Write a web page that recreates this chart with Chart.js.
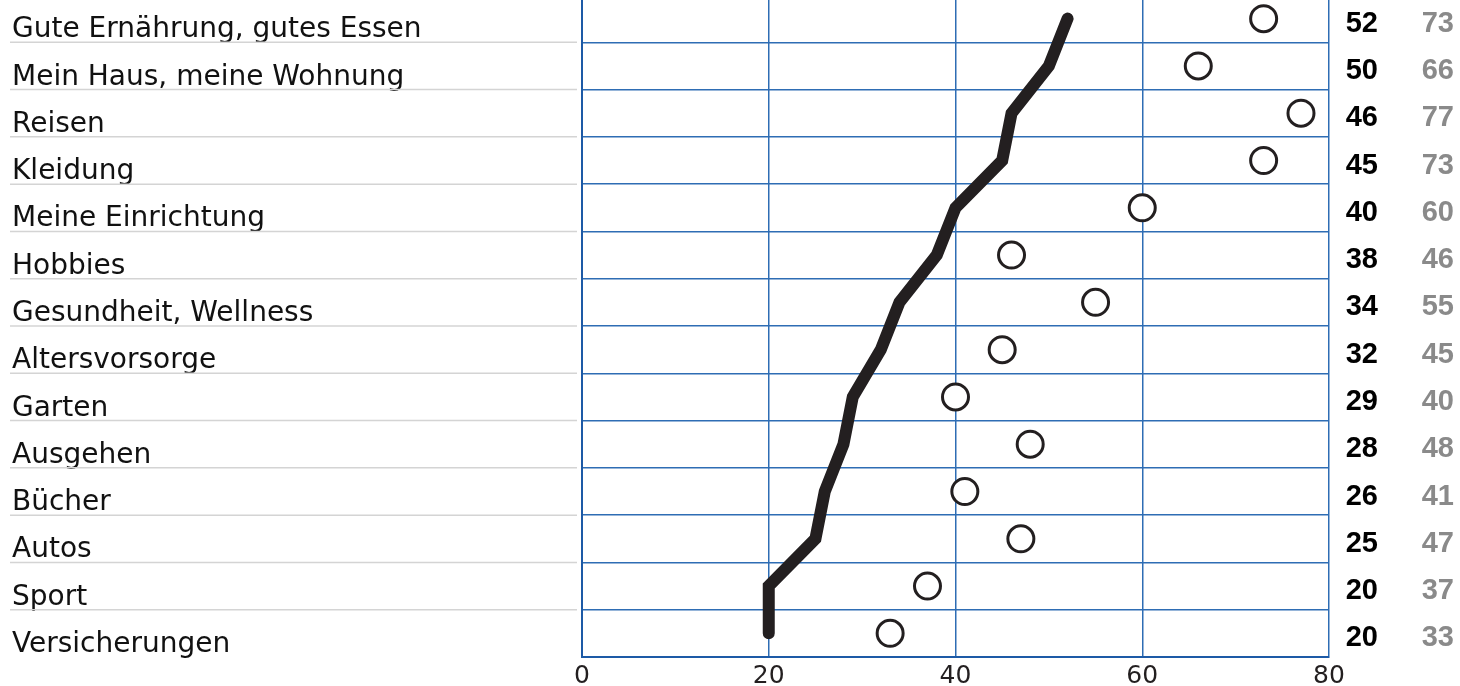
<!DOCTYPE html>
<html>
<head>
<meta charset="utf-8">
<script src="https://cdn.jsdelivr.net/npm/chart.js@4"></script>
<style>
  html, body { margin: 0; padding: 0; background: #fff; overflow: hidden; }
  #wrap { position: absolute; left: 0; top: -5px; width: 1460px; height: 691px; }
</style>
</head>
<body>
<div id="wrap"><canvas id="chart"></canvas></div>
<script>
const categories = [
  'Gute Ernährung, gutes Essen',
  'Mein Haus, meine Wohnung',
  'Reisen',
  'Kleidung',
  'Meine Einrichtung',
  'Hobbies',
  'Gesundheit, Wellness',
  'Altersvorsorge',
  'Garten',
  'Ausgehen',
  'Bücher',
  'Autos',
  'Sport',
  'Versicherungen'
];
const lineValues = [52, 50, 46, 45, 40, 38, 34, 32, 29, 28, 26, 25, 20, 20];
const circleValues = [73, 66, 77, 73, 60, 46, 55, 45, 40, 48, 41, 47, 37, 33];
const xTicks = [0, 20, 40, 60, 80];

const BLUE = '#2e6db4';
const DARK_BLUE = '#1d5aa6';
const INK = '#231f20';

// category names on the left, value columns on the right
const sideLabels = {
  id: 'sideLabels',
  afterDraw(chart) {
    const { ctx, chartArea, scales } = chart;
    const y = scales.y;
    const half = (y.getPixelForValue(1) - y.getPixelForValue(0)) / 2;
    ctx.save();
    categories.forEach((name, i) => {
      const cy = y.getPixelForValue(i);
      ctx.fillStyle = '#111';
      ctx.font = '28px "DejaVu Sans"';
      ctx.textAlign = 'left';
      ctx.textBaseline = 'alphabetic';
      ctx.fillText(name, 12, cy + half - 5);
      if (i < categories.length - 1) {
        ctx.strokeStyle = '#d4d4d4';
        ctx.lineWidth = 1.5;
        ctx.beginPath();
        ctx.moveTo(10, cy + half);
        ctx.lineTo(chartArea.left - 5, cy + half);
        ctx.stroke();
      }
      ctx.font = 'bold 29px "Liberation Sans"';
      ctx.textAlign = 'right';
      ctx.textBaseline = 'middle';
      ctx.fillStyle = '#000';
      ctx.fillText(String(lineValues[i]), 1378, cy + 5);
      ctx.fillStyle = '#8a8a8a';
      ctx.fillText(String(circleValues[i]), 1454, cy + 5);
    });
    ctx.restore();
  }
};

new Chart(document.getElementById('chart'), {
  type: 'line',
  data: {
    labels: categories,
    datasets: [
      {
        data: lineValues,
        borderColor: INK,
        borderWidth: 12,
        borderCapStyle: 'round',
        borderJoinStyle: 'miter',
        pointRadius: 0,
        tension: 0,
        fill: false,
        clip: false
      },
      {
        data: circleValues,
        showLine: false,
        pointStyle: 'circle',
        pointRadius: 13,
        pointBorderWidth: 3,
        pointBorderColor: INK,
        pointBackgroundColor: '#fff',
        clip: false
      }
    ]
  },
  options: {
    indexAxis: 'y',
    responsive: true,
    maintainAspectRatio: false,
    animation: false,
    layout: { autoPadding: false, padding: { left: 582, right: 131, top: 0, bottom: 0 } },
    plugins: {
      legend: { display: false },
      tooltip: { enabled: false },
      title: { display: false }
    },
    scales: {
      x: {
        type: 'linear',
        min: 0,
        max: 80,
        afterBuildTicks: (scale) => { scale.ticks = xTicks.map(v => ({ value: v })); },
        afterFit: (scale) => { scale.height = 29; },
        grid: { color: BLUE, lineWidth: 1.5, drawTicks: false },
        border: { color: DARK_BLUE, width: 2 },
        ticks: {
          color: INK,
          padding: 4,
          font: { family: 'DejaVu Sans', size: 25 }
        }
      },
      y: {
        type: 'category',
        offset: true,
        grid: { offset: true, color: BLUE, lineWidth: 1.5, drawTicks: false },
        border: { color: DARK_BLUE, width: 2 },
        ticks: { display: false }
      }
    }
  },
  plugins: [sideLabels]
});
</script>
</body>
</html>
